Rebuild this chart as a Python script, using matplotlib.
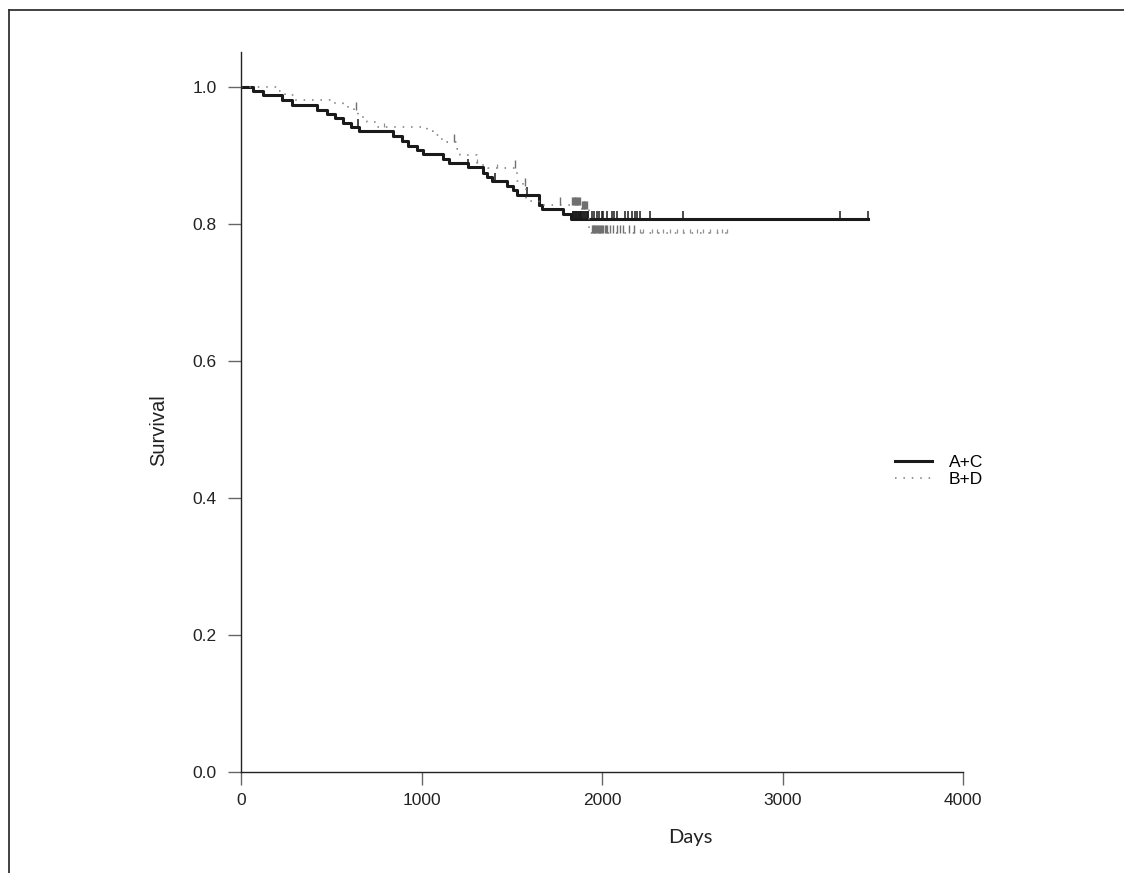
import numpy as np
import matplotlib
matplotlib.use('Agg')
import matplotlib.pyplot as plt
from matplotlib.lines import Line2D

# Kaplan-Meier step curves
ac_days = [0, 65, 124, 225, 281, 423, 475, 521, 563, 608, 655, 844, 890, 927, 977, 1010,
           1121, 1154, 1259, 1342, 1365, 1389, 1472, 1505, 1530, 1650, 1670, 1786, 1830, 3476]
ac_surv = [1.0, 0.9946, 0.9883, 0.981, 0.9737, 0.9664, 0.9606, 0.9543, 0.9479, 0.9411, 0.9362,
           0.9289, 0.9216, 0.9143, 0.908, 0.9017, 0.8949, 0.8886, 0.8828, 0.875, 0.868, 0.862,
           0.855, 0.8496, 0.8423, 0.828, 0.8214, 0.815, 0.807, 0.807]

bd_days = [0, 198, 244, 299, 493, 567, 595, 626, 650, 678, 700, 752, 1029, 1066, 1102, 1140,
           1195, 1213, 1306, 1333, 1370, 1527, 1564, 1580, 1650, 1880, 1930, 2691]
bd_surv = [1.0, 0.9946, 0.9883, 0.981, 0.9762, 0.9737, 0.9689, 0.9664, 0.9591, 0.9543, 0.9494,
           0.9411, 0.935, 0.930, 0.924, 0.920, 0.910, 0.900, 0.889, 0.886, 0.881, 0.862, 0.855,
           0.833, 0.828, 0.822, 0.787, 0.787]

# censored observations
ac_cens = [650, 1259, 1407, 1583, 1838, 1842, 1846, 1850, 1854, 1858, 1862, 1866, 1870, 1874,
           1878, 1882, 1886, 1890, 1895, 1900, 1905, 1910, 1915, 1920, 1925, 1943, 1956, 1971,
           1985, 1998, 2007, 2026, 2054, 2066, 2081, 2127, 2146, 2164, 2183, 2196, 2211, 2266,
           2450, 3319, 3476]
bd_cens_tall = [637, 1182, 1518, 1573, 1767, 1833, 1838, 1843, 1848, 1853, 1858, 1863, 1868,
                1873, 1878, 1889, 1893, 1898, 1903, 1908, 1912, 1916, 1943, 1948, 1953, 1958,
                1963, 1968, 1973, 1978, 1984, 1990, 1996, 2002, 2008, 2014, 2020, 2026, 2044,
                2063, 2081, 2100, 2118, 2152, 2177]
bd_cens_short = [792, 1310, 1420, 2211, 2229, 2275, 2303, 2340, 2377, 2414, 2450, 2487, 2524,
                 2561, 2598, 2635, 2663, 2691]

def surv_at(days, surv, t):
    idx = np.searchsorted(days, t, side='right') - 1
    return np.asarray(surv)[idx]

plt.rcParams['font.family'] = ['Liberation Sans', 'DejaVu Sans']

fig = plt.figure(figsize=(11.24, 8.73), dpi=100)
ax = fig.add_axes([241/1124, 1 - 772/873, 722/1124, 720/873])

ax.step(ac_days, ac_surv, where='post', color='#1a1a1a', lw=2.2, label='A+C')
ax.plot(ac_cens, surv_at(ac_days, ac_surv, ac_cens), ls='none', marker=2,
        color='#1a1a1a', ms=6, mew=1.1)

ax.step(bd_days, bd_surv, where='post', color='#7a7a7a', lw=1.1,
        ls=(0, (1, 4.5)), label='B+D')
ax.plot(bd_cens_tall, surv_at(bd_days, bd_surv, bd_cens_tall), ls='none', marker=2,
        color='#707070', ms=6, mew=1.0)
ax.plot(bd_cens_short, surv_at(bd_days, bd_surv, bd_cens_short), ls='none', marker=2,
        color='#909090', ms=3, mew=0.9)

ax.set_xlim(0, 4000)
ax.set_ylim(0, 1.051)
ax.set_xticks([0, 1000, 2000, 3000, 4000])
ax.set_yticks([0.0, 0.2, 0.4, 0.6, 0.8, 1.0])
ax.set_yticklabels(['0.0', '0.2', '0.4', '0.6', '0.8', '1.0'])
for s in ['top', 'right']:
    ax.spines[s].set_visible(False)
for s in ['left', 'bottom']:
    ax.spines[s].set_linewidth(1.0)
    ax.spines[s].set_color('#222222')
ax.tick_params(direction='out', length=9.4, width=1.0, color='#666666',
               labelsize=12.5, labelcolor='#222222')
ax.tick_params(axis='x', pad=6)
ax.tick_params(axis='y', pad=8)

ax.set_xlabel('Days', fontsize=14.5, family=['Lato', 'DejaVu Sans'], color='#222222')
ax.xaxis.set_label_coords((690 - 241) / 722, (772 - 838) / 720)
ax.xaxis.label.set_va('center')
ax.set_ylabel('Survival', fontsize=14.5, color='#222222')
ax.yaxis.set_label_coords((159 - 241) / 722, (772 - 430) / 720)
ax.yaxis.label.set_va('center')

ax.legend(loc='center left', bbox_to_anchor=(895/1124, 1 - 471/873),
          bbox_transform=fig.transFigure, frameon=False, borderpad=0,
          borderaxespad=0, handlelength=2.15, handletextpad=0.95,
          labelspacing=0.1, fontsize=12.5)

# outer frame, only top and left edges visible
fig.add_artist(Line2D([8.5/1124, 1], [1 - 9.5/873, 1 - 9.5/873], color='#333333', lw=1.3))
fig.add_artist(Line2D([8.5/1124, 8.5/1124], [0, 1 - 9.5/873], color='#333333', lw=1.3))

fig.savefig('out.png', dpi=100)
